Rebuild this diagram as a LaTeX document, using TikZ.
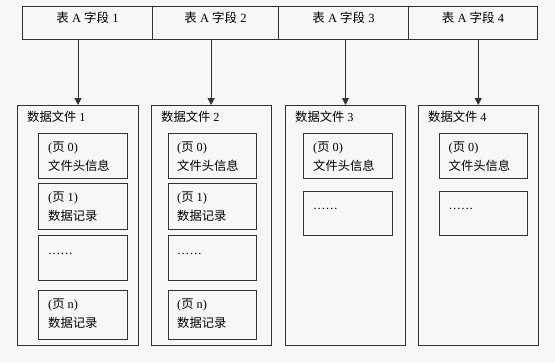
\documentclass[tikz,border=0pt]{standalone}
\usepackage{fontspec}
\setmainfont{Liberation Serif}
\newfontfamily\cjk{Noto Sans CJK SC}
\newcommand\zh[1]{{\cjk #1}}
\usetikzlibrary{arrows.meta}
\definecolor{bg}{HTML}{F7F7F7}
\definecolor{ln}{HTML}{333333}
\newcommand\mybox[5]{\node[box,minimum width={#4-#2},minimum height={#5-#3}] (#1) at (#2,#3) {};}
\begin{document}
\begin{tikzpicture}[x=1pt,y=-1pt,
  box/.style={draw=ln,line width=1pt,inner sep=0pt,anchor=north west,rectangle},
  cell/.style={box,minimum height=33pt,font=\fontsize{12.5}{14}\selectfont,text height=8pt,text depth=9pt},
  txt/.style={anchor=base west,inner sep=0pt,font=\fontsize{12.3}{14}\selectfont,text=black},
  arr/.style={draw=ln,line width=1pt,-{Triangle[length=7pt,width=7pt]}}]
\fill[bg] (0,0) rectangle (555,362);
\useasboundingbox (0,0) rectangle (555,362);
% top fields
\node[cell,minimum width=130pt] (t1) at (22,6) {\zh{表} A \zh{字段} 1};
\node[cell,minimum width=126pt] (t2) at (152,6) {\zh{表} A \zh{字段} 2};
\node[cell,minimum width=130pt] (t3) at (278,6) {\zh{表} A \zh{字段} 3};
\node[cell,minimum width=129pt] (t4) at (408,6) {\zh{表} A \zh{字段} 4};
% data files
\mybox{f1}{17.3}{105}{137.7}{345}
\mybox{f2}{150.7}{105}{270.5}{345}
\mybox{f3}{285}{105}{405}{345}
\mybox{f4}{417.5}{105}{538}{345}
% arrows
\draw[arr] (t1.south -| f1.north) -- (f1.north);
\draw[arr] (t2.south -| f2.north) -- (f2.north);
\draw[arr] (t3.south -| f3.north) -- (f3.north);
\draw[arr] (t4.south -| f4.north) -- (f4.north);
% titles
\node[txt] (f1t) at (27,121.5) {\zh{数据文件} 1};
\node[txt] (f2t) at (161,121.5) {\zh{数据文件} 2};
\node[txt] (f3t) at (295,121.5) {\zh{数据文件} 3};
\node[txt] (f4t) at (428,121.5) {\zh{数据文件} 4};
% file 1 pages
\mybox{a1}{38.3}{133}{126.7}{177.5}
\mybox{a2}{38.3}{183}{126.7}{229}
\mybox{a3}{38.3}{235}{126.7}{280}
\mybox{a4}{38.3}{290}{126.7}{339}
\node[txt] (a1x) at (48,151) {(\zh{页} 0)};
\node[txt] (a1y) at (48,170) {\zh{文件头信息}};
\node[txt] (a2x) at (48,201) {(\zh{页} 1)};
\node[txt] (a2y) at (48,220) {\zh{数据记录}};
\node[txt] (a3x) at (48,254) {……};
\node[txt] (a4x) at (48,308) {(\zh{页} n)};
\node[txt] (a4y) at (48,327) {\zh{数据记录}};
% file 2 pages
\mybox{b1}{167.7}{133}{256}{177.5}
\mybox{b2}{167.7}{183}{256}{229}
\mybox{b3}{167.7}{235}{256}{280}
\mybox{b4}{167.7}{290}{256}{339}
\node[txt] (b1x) at (177,151) {(\zh{页} 0)};
\node[txt] (b1y) at (177,170) {\zh{文件头信息}};
\node[txt] (b2x) at (177,201) {(\zh{页} 1)};
\node[txt] (b2y) at (177,220) {\zh{数据记录}};
\node[txt] (b3x) at (177,254) {……};
\node[txt] (b4x) at (177,308) {(\zh{页} n)};
\node[txt] (b4y) at (177,327) {\zh{数据记录}};
% file 3 pages
\mybox{c1}{303.3}{133}{391.5}{178}
\mybox{c2}{303.3}{190.7}{391.5}{235}
\node[txt] (c1x) at (313,151) {(\zh{页} 0)};
\node[txt] (c1y) at (313,170) {\zh{文件头信息}};
\node[txt] (c2x) at (313,209) {……};
% file 4 pages
\mybox{d1}{439}{133}{526.7}{178}
\mybox{d2}{439}{190.7}{526.7}{235}
\node[txt] (d1x) at (448.5,151) {(\zh{页} 0)};
\node[txt] (d1y) at (448.5,170) {\zh{文件头信息}};
\node[txt] (d2x) at (448.5,209) {……};
\end{tikzpicture}
\end{document}
